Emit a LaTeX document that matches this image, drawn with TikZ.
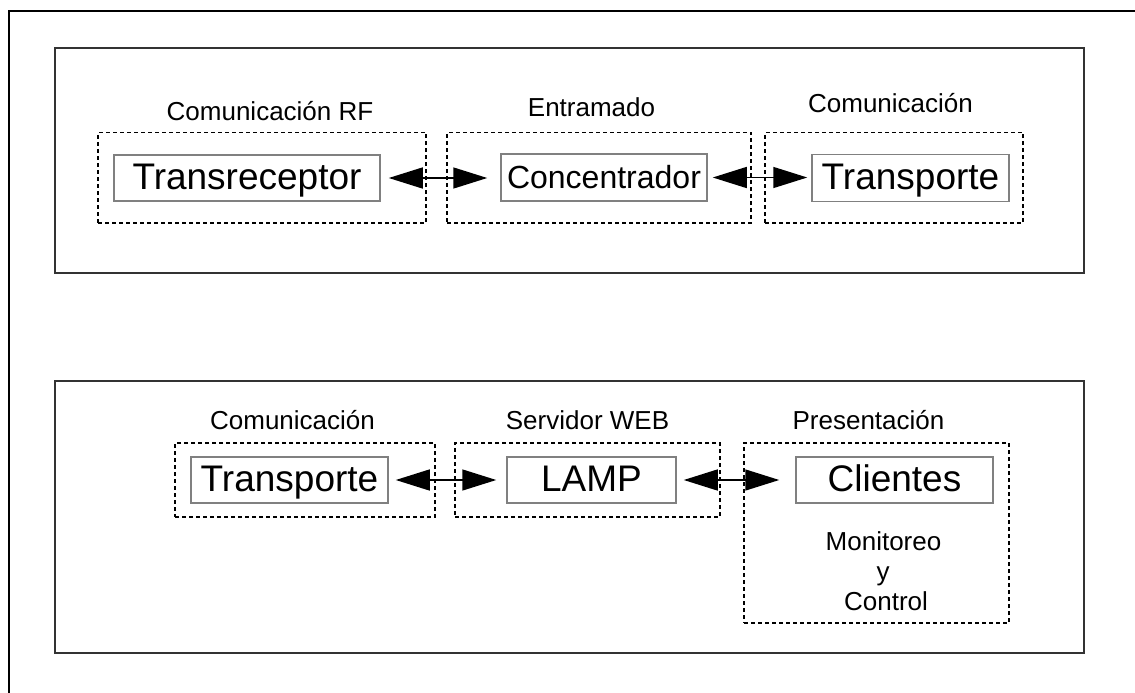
\documentclass[tikz,border=0pt]{standalone}
\usepackage{fontspec}
\setmainfont{Liberation Sans}
\usetikzlibrary{arrows.meta}
\begin{document}
\begin{tikzpicture}[x=1pt,y=-1pt,
  frame/.style={draw=black,line width=2pt},
  panel/.style={draw=black!80,line width=2pt},
  group/.style={draw=black,line width=1.4pt,dash pattern=on 4pt off 3pt,inner sep=0pt},
  unit/.style={draw=black!50,line width=1.5pt,inner sep=0pt,text height=23pt,text depth=0pt,
    font=\fontsize{37}{44}\selectfont},
  caption/.style={anchor=base,inner sep=0pt,font=\fontsize{26}{31}\selectfont},
  biarrow/.style={{Triangle[length=34pt,width=21pt]}-{Triangle[length=34pt,width=21pt]},line width=1.5pt}]

% canvas
\fill[white] (0,0) rectangle (1135,693);
\useasboundingbox (0,0) rectangle (1135,693);

% outer frame (runs off the page on the right and at the bottom)
\draw[frame] (1136,11) -- (9,11) -- (9,694);

% the two panels
\draw[panel] (55,48) rectangle (1084,273);
\draw[panel] (55,381) rectangle (1084,653);

% upper panel: dashed groups
\node[group,minimum width=328pt,minimum height=90.5pt] (g1) at (262,177.75) {};
\node[group,minimum width=304pt,minimum height=90.5pt] (g2) at (599,177.75) {};
\node[group,minimum width=258pt,minimum height=90.5pt] (g3) at (894,177.75) {};

\node[caption] (c1) at (270,120) {Comunicación RF};
\node[caption] (c2) at (591.5,116) {Entramado};
\node[caption] (c3) at (890.5,112) {Comunicación};

% upper panel: units
\node[unit,minimum width=266pt,minimum height=46pt] (tr) at (247,178) {Transreceptor};
\node[unit,minimum width=206pt,minimum height=47pt,text height=21pt,
      font=\fontsize{32}{38}\selectfont] (co) at (604,177.5) {Concentrador};
\node[unit,minimum width=197pt,minimum height=47pt] (tp1) at (910.5,178) {Transporte};

\draw[biarrow,shorten <=8pt,shorten >=13pt] (tr.east) -- (tr.east -| co.west);
\draw[biarrow,shorten <=5pt,shorten >=4pt] (co.east) -- (co.east -| tp1.west);

% lower panel: dashed groups
\node[group,minimum width=260pt,minimum height=74pt] (g4) at (305,480) {};
\node[group,minimum width=265pt,minimum height=74pt] (g5) at (587.5,480) {};
\node[group,minimum width=265pt,minimum height=180pt] (g6) at (876.5,533) {};

\node[caption] (c4) at (292.5,429) {Comunicación};
\node[caption] (c5) at (587.5,429) {Servidor WEB};
\node[caption] (c6) at (868.5,429) {Presentación};

% lower panel: units
\node[unit,minimum width=197pt,minimum height=46pt] (tp2) at (289.5,480) {Transporte};
\node[unit,minimum width=169pt,minimum height=46pt] (lamp) at (591.5,480) {LAMP};
\node[unit,minimum width=197pt,minimum height=46pt] (cli) at (894.5,480) {Clientes};

\node[caption] (m1) at (883.5,550) {Monitoreo};
\node[caption] (m2) at (883,580) {y};
\node[caption] (m3) at (886,610) {Control};

\draw[biarrow,shorten <=7pt,shorten >=10pt] (tp2.east) -- (tp2.east -| lamp.west);
\draw[biarrow,shorten <=7pt,shorten >=16pt] (lamp.east) -- (lamp.east -| cli.west);
\end{tikzpicture}
\end{document}
